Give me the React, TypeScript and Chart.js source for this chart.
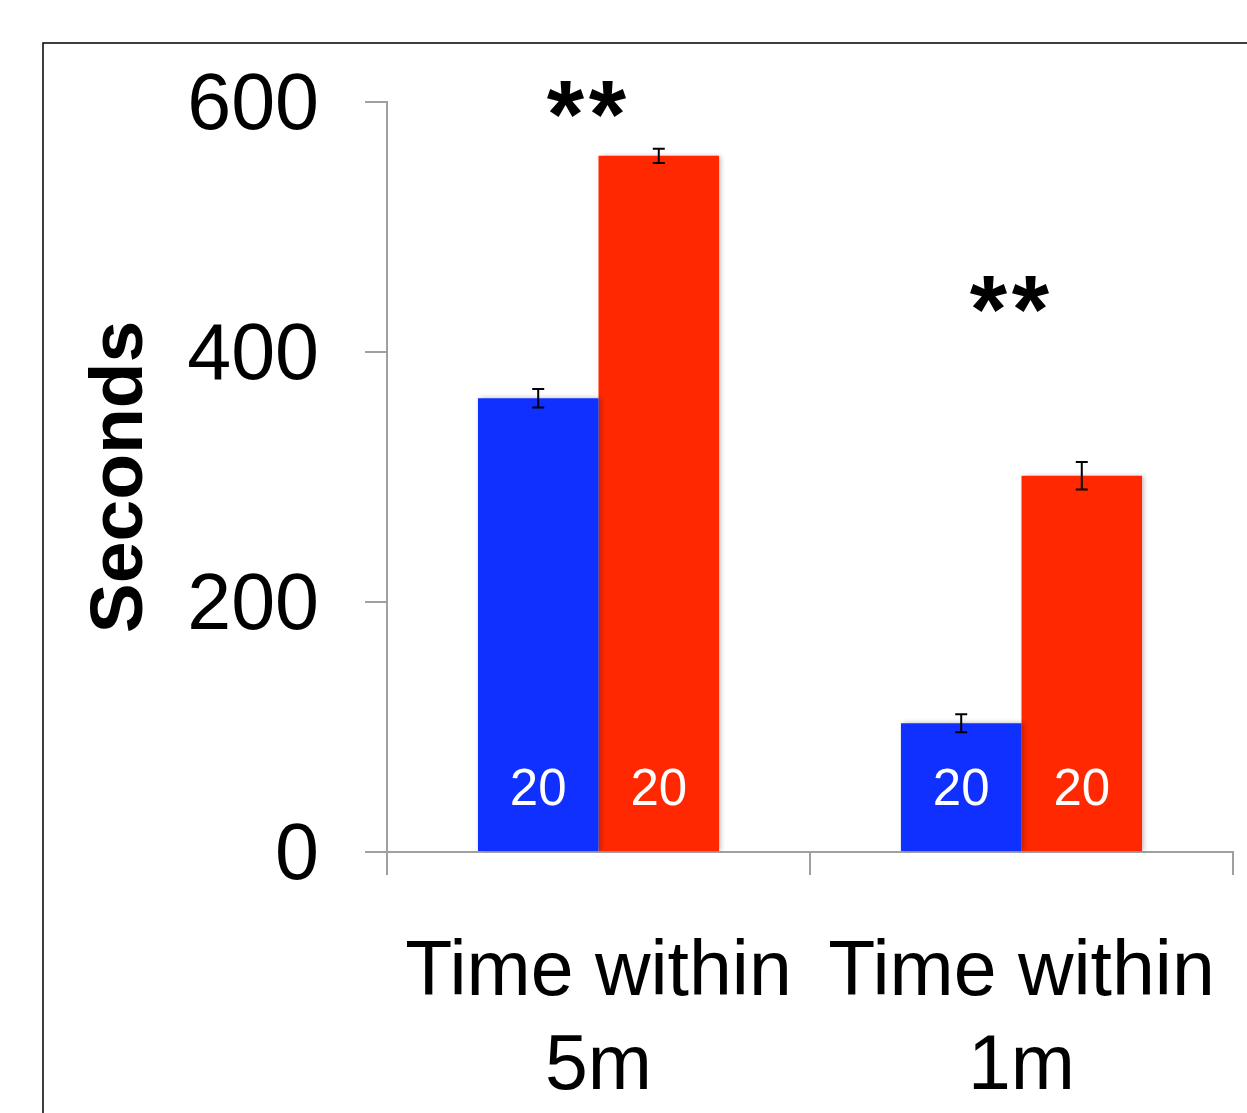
import React, { useEffect, useRef } from 'react';
import { Chart, registerables } from 'chart.js';

Chart.register(...registerables);

// ---- data ----
const categories: string[][] = [['Time within', '5m'], ['Time within', '1m']];
const seriesNames = ['Blue group', 'Red group'];
const blueValues = [363, 103];
const redValues = [557, 301];
const blueErrors = [7.4, 7.2];
const redErrors = [5.7, 11];
const blueN = [20, 20];
const redN = [20, 20];
const significance = ['**', '**'];
const significanceLevel = [564, 408];
const yTicks = [0, 200, 400, 600];
const yTitle = 'Seconds';

const BLUE = 'rgb(15,48,255)';
const RED = 'rgb(255,40,0)';
const AXIS = '#a0a0a0';
const FONT = "'Liberation Sans', Arial, Helvetica, sans-serif";

const errorsBySeries = [blueErrors, redErrors];
const nBySeries = [blueN, redN];

const overlayPlugin = {
  id: 'overlay',
  beforeDatasetsDraw(chart: any) {
    const ctx = chart.ctx;
    ctx.save();
    ctx.shadowColor = 'rgba(0,0,0,0.28)';
    ctx.shadowBlur = 5;
    ctx.shadowOffsetX = 2;
    ctx.shadowOffsetY = 0;
  },
  afterDatasetsDraw(chart: any) {
    const ctx = chart.ctx;
    ctx.restore();
    const yScale = chart.scales.y;
    const xScale = chart.scales.x;
    chart.data.datasets.forEach((ds: any, di: number) => {
      const meta = chart.getDatasetMeta(di);
      meta.data.forEach((bar: any, i: number) => {
        const v = ds.data[i];
        const e = errorsBySeries[di][i];
        const x = bar.x;
        const yTop = yScale.getPixelForValue(v + e);
        const yBot = yScale.getPixelForValue(v - e);
        ctx.save();
        ctx.strokeStyle = '#000';
        ctx.lineWidth = 2;
        ctx.beginPath();
        ctx.moveTo(x, yTop);
        ctx.lineTo(x, yBot);
        ctx.moveTo(x - 6, yTop);
        ctx.lineTo(x + 6, yTop);
        ctx.moveTo(x - 6, yBot);
        ctx.lineTo(x + 6, yBot);
        ctx.stroke();
        ctx.fillStyle = '#fff';
        ctx.font = `51px ${FONT}`;
        ctx.textAlign = 'center';
        ctx.textBaseline = 'middle';
        ctx.fillText(String(nBySeries[di][i]), x, bar.base - 60);
        ctx.restore();
      });
    });
    significance.forEach((s, i) => {
      ctx.save();
      ctx.fillStyle = '#000';
      ctx.font = `bold 96px ${FONT}`;
      ctx.textAlign = 'center';
      ctx.textBaseline = 'alphabetic';
      const cx = xScale.getPixelForValue(i) - 12;
      const cy = yScale.getPixelForValue(significanceLevel[i]);
      const chars = s.split('');
      const adv = 42;
      chars.forEach((c, k) => {
        ctx.fillText(c, cx + (k - (chars.length - 1) / 2) * adv, cy);
      });
      ctx.restore();
    });
    // outer frame (left and top edges)
    ctx.save();
    ctx.strokeStyle = '#000';
    ctx.lineWidth = 1.5;
    ctx.beginPath();
    ctx.moveTo(43, chart.height);
    ctx.lineTo(43, 43);
    ctx.lineTo(chart.width, 43);
    ctx.stroke();
    ctx.restore();
  },
};

export default function App() {
  const ref = useRef<HTMLCanvasElement | null>(null);
  useEffect(() => {
    if (!ref.current) return;
    const chart = new Chart(ref.current, {
      type: 'bar',
      data: {
        labels: categories,
        datasets: [
          { label: seriesNames[0], data: blueValues, backgroundColor: BLUE, borderWidth: 0 },
          { label: seriesNames[1], data: redValues, backgroundColor: RED, borderWidth: 0 },
        ],
      },
      options: {
        responsive: false,
        animation: false,
        maintainAspectRatio: false,
        layout: { padding: { top: 102, right: 14, bottom: 0, left: 0 } },
        datasets: { bar: { categoryPercentage: 0.57, barPercentage: 1 } },
        plugins: { legend: { display: false }, tooltip: { enabled: false } },
        font: { family: FONT },
        scales: {
          x: {
            offset: true,
            grid: { display: true, drawOnChartArea: false, drawTicks: true, tickLength: 23, color: AXIS, lineWidth: 2, offset: true },
            border: { display: true, color: AXIS, width: 2 },
            ticks: { color: '#000', font: { family: FONT, size: 77, lineHeight: 1.22 }, padding: 52, maxRotation: 0, autoSkip: false },
            afterFit: (s: any) => {
              s.height = 261;
              s.paddingLeft = 0;
              s.paddingRight = 0;
              s.paddingTop = 0;
              s.paddingBottom = 0;
            },
          },
          y: {
            min: 0,
            max: 600,
            afterBuildTicks: (s: any) => { s.ticks = yTicks.map((v) => ({ value: v })); },
            grid: { display: true, drawOnChartArea: false, drawTicks: true, tickLength: 22, color: AXIS, lineWidth: 2 },
            border: { display: true, color: AXIS, width: 2 },
            ticks: { color: '#000', font: { family: FONT, size: 79 }, padding: 46, labelOffset: 5 },
            title: { display: true, text: yTitle, color: '#000', font: { family: FONT, size: 75, weight: 'bold' }, padding: { top: 76, bottom: 0 } },
            afterFit: (s: any) => {
              s.width = 387;
              s.paddingTop = 0;
              s.paddingBottom = 0;
            },
          },
        },
      } as any,
      plugins: [overlayPlugin],
    });
    return () => chart.destroy();
  }, []);
  return (
    <div style={{ position: 'absolute', left: 0, top: 0, width: 1247, height: 1113, background: '#fff' }}>
      <canvas ref={ref} width={1247} height={1113} style={{ display: 'block', width: 1247, height: 1113 }} />
    </div>
  );
}
